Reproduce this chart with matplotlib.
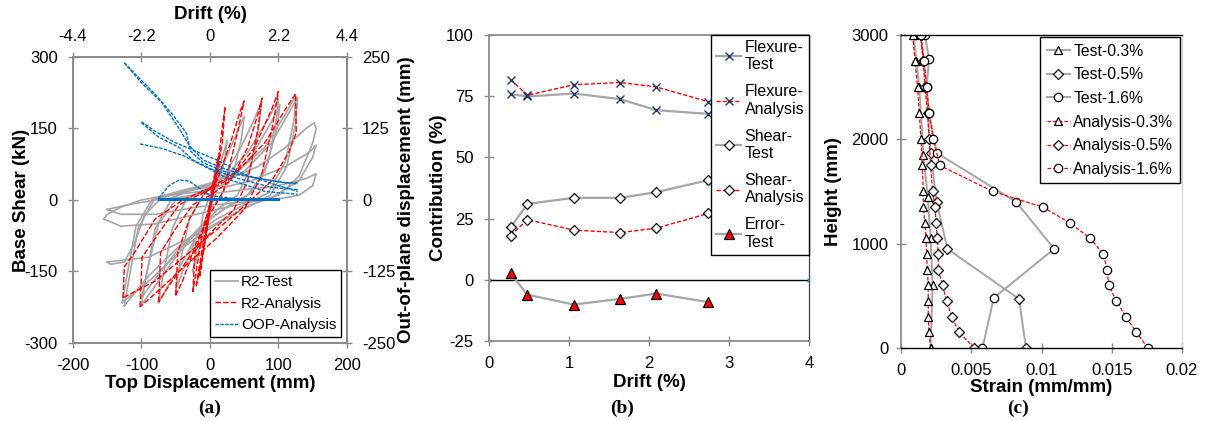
import matplotlib
matplotlib.use('Agg')
import matplotlib.pyplot as plt

plt.rcParams['font.family'] = ['Liberation Sans', 'DejaVu Sans']
plt.rcParams['axes.unicode_minus'] = False

# ---------------- (a) hysteresis: R2 test / analysis, OOP analysis ----------------
test_disp = [
    [-25, -20, -10, 0, 10, 20, 25, 22, 10, 0, -15, -25],
    [-50, -45, -30, -10, 10, 30, 45, 50, 46, 35, 15, 0, -20, -40, -50],
    [-75, -70, -55, -35, -10, 20, 45, 65, 75, 72, 60, 40, 15, -10, -40, -65, -75],
    [-100, -95, -80, -55, -20, 20, 55, 85, 100, 97, 85, 60, 30, 0, -40, -75, -100],
    [-100, -92, -75, -50, -15, 25, 60, 90, 102, 98, 80, 55, 25, -10, -50, -85, -100],
    [-125, -120, -105, -80, -40, 0, 40, 80, 110, 125, 123, 110, 85, 50, 10, -40, -90, -125],
    [-128, -122, -108, -85, -45, 5, 50, 90, 118, 128, 125, 112, 88, 55, 15, -35, -85, -128],
    [-150, -145, -125, -110, -95, -70, -30, 20, 70, 110, 140, 152, 155, 150, 130, 100, 60, 20, -30, -90, -150],
    [-155, -150, -130, -100, -60, 0, 60, 110, 145, 155, 150, 130, 90, 40, -20, -80, -130, -155],
    [-150, -120, -80, -20, 40, 100, 140, 155, 150, 130, 90, 40, -20, -80, -130, -150],
]
test_shear = [
    [-150, -110, -30, 10, 50, 100, 125, 90, 20, -20, -100, -150],
    [-190, -140, -40, 10, 40, 110, 160, 175, 130, 60, 5, -20, -80, -150, -190],
    [-215, -170, -60, 0, 20, 50, 110, 170, 205, 160, 70, 10, -15, -50, -130, -190, -215],
    [-220, -175, -60, 5, 25, 45, 100, 170, 212, 170, 80, 15, -10, -40, -100, -170, -220],
    [-205, -150, -50, 0, 15, 35, 90, 165, 200, 150, 60, 10, -15, -50, -110, -175, -205],
    [-222, -180, -60, 5, 20, 35, 60, 110, 180, 218, 170, 80, 15, -10, -40, -90, -160, -222],
    [-215, -165, -55, 0, 15, 30, 60, 120, 190, 215, 160, 70, 10, -15, -45, -95, -165, -215],
    [-130, -135, -130, -90, -30, 5, 20, 40, 70, 110, 150, 162, 150, 120, 50, 10, -10, -40, -80, -120, -130],
    [-40, -30, -15, 0, 10, 20, 40, 70, 100, 115, 90, 40, 5, -10, -30, -50, -55, -40],
    [-20, -10, 0, 10, 20, 30, 45, 55, 30, 10, 0, -5, -15, -30, -30, -20],
]

ana_disp = [
    [-15, -5, 5, 12, 8, -2, -15],
    [-20, -10, 0, 8, 15, 12, 0, -10, -20],
    [-25, -22, 0, 10, 22, 18, 5, -10, -25],
    [-50, -47, -30, -10, 10, 30, 45, 50, 40, 20, 0, -20, -40, -50],
    [-75, -72, -50, -25, 0, 30, 55, 70, 76, 70, 55, 35, 0, -30, -60, -75],
    [-102, -99, -75, -45, -10, 30, 65, 90, 100, 92, 75, 50, 10, -30, -75, -102],
    [-127, -125, -110, -80, -40, 0, 40, 80, 110, 125, 126, 115, 90, 60, 20, -30, -80, -127],
]
ana_shear = [
    [-160, -60, 40, 90, 50, -40, -160],
    [-180, -90, -10, 60, 100, 60, -20, -110, -180],
    [-193, -110, -20, 60, 196, 120, 20, -60, -193],
    [-200, -110, -40, 10, 40, 120, 190, 208, 140, 20, -30, -90, -170, -200],
    [-214, -110, -60, -10, 10, 40, 110, 180, 214, 150, 40, -20, -70, -120, -180, -214],
    [-224, -120, -70, -10, 15, 45, 110, 190, 228, 160, 50, -20, -80, -130, -190, -224],
    [-205, -140, -110, -40, 0, 25, 60, 120, 190, 223, 141, 100, 40, 0, -50, -110, -170, -205],
]

oop_disp = [
    [-125, -100, -70, -45, -30, -10, 20, 60, 100, 128],
    [-125, -105, -80, -55, -35, -28, -10, 25, 70, 110, 128],
    [-100, -80, -50, -20, 10, 50, 100, 128],
    [-100, -75, -45, -25, 0, 40, 90, 128],
    [-102, -70, -40, -10, 30, 80, 128],
    [-75, -60, -45, -30, -15, 0, 30, 60, 100],
]
oop_defl = [
    [240, 205, 170, 125, 95, 70, 55, 40, 32, 28],
    [240, 215, 185, 150, 118, 85, 65, 48, 38, 30, 30],
    [137, 120, 100, 85, 70, 45, 25, 15],
    [135, 110, 92, 70, 55, 38, 22, 18],
    [98, 90, 78, 60, 35, 15, 10],
    [3, 25, 35, 33, 20, 8, 3, 1, 0],
]
oop_base_disp = [-75, 100]
oop_base_defl = [1, 1]

# ---------------- (b) contributions ----------------
drift = [0.27, 0.48, 1.06, 1.64, 2.09, 2.74]
flex_test = [75.8, 74.9, 76.1, 73.8, 69.3, 67.8]
flex_ana = [81.8, 75.4, 79.7, 80.6, 78.8, 72.8]
shear_test = [21.4, 31.0, 33.5, 33.5, 35.8, 40.7]
shear_ana = [18.1, 24.6, 20.3, 19.3, 21.1, 27.1]
error_test = [2.6, -6.1, -10.1, -7.8, -5.6, -9.1]
zero_x = [0, 4]
zero_y = [0, 0]

# ---------------- (c) strain profiles ----------------
h_t03 = [0, 600, 1050, 1450, 1850, 2500, 2750, 3000]
s_t03 = [0.0021, 0.00225, 0.00211, 0.0019, 0.0016, 0.0013, 0.0011, 0.0009]
h_t05 = [0, 470, 950, 1400, 1870, 2500, 2750, 3000]
s_t05 = [0.0089, 0.0084, 0.0033, 0.00254, 0.0021, 0.0018, 0.0016, 0.0014]
h_t16 = [0, 480, 950, 1400, 1870, 2250, 2500, 2770, 3000]
s_t16 = [0.0058, 0.0066, 0.0109, 0.0082, 0.00254, 0.0020, 0.00182, 0.0020, 0.0017]
h_ana = [0, 150, 300, 450, 600, 750, 900, 1050, 1200, 1350, 1500, 1750, 2000, 2250, 2500, 2750, 3000]
s_a03 = [0.00211, 0.0020, 0.00194, 0.00194, 0.00194, 0.00187, 0.00182, 0.00178, 0.0017,
         0.00159, 0.00159, 0.00152, 0.00142, 0.0013, 0.00118, 0.001, 0.00083]
s_a05 = [0.0052, 0.00415, 0.0036, 0.00325, 0.00296, 0.00265, 0.00265, 0.00258, 0.00249,
         0.00242, 0.00225, 0.0021, 0.002, 0.0019, 0.0017, 0.00159, 0.0014]
s_a16 = [0.01758, 0.01675, 0.0160, 0.01533, 0.01479, 0.01467, 0.0144, 0.01348, 0.0120,
         0.0101, 0.00652, 0.00277, 0.0023, 0.0020, 0.00182, 0.00166, 0.0014]

GREY = '#A6A6A6'
RED = '#FF0000'
BLUE = '#0070C0'
SPINE = '#8C8C8C'
TICK_FS = 12
LAB_FS = 13.5

fig = plt.figure(figsize=(12.06, 4.21), dpi=100)


def style_ticks(ax, color=SPINE):
    ax.tick_params(direction='inout', length=7, width=1, color=color,
                   labelsize=TICK_FS, pad=7.5)


def place_label(axis, text, x, y, rotation=0):
    # axis label centred on a fixed point (axes fraction)
    axis.set_label_text(text, fontsize=LAB_FS, fontweight='bold')
    axis.label.set_va('center')
    axis.label.set_ha('center')
    if rotation:
        axis.label.set_rotation(rotation)
    axis.set_label_coords(x, y)


# ---- panel (a) ----
ax1 = fig.add_axes([0.0605, 0.1853, 0.2272, 0.6793])
for xs, ys in zip(test_disp, test_shear):
    ax1.plot(xs, ys, color=GREY, lw=1.2)
for xs, ys in zip(ana_disp, ana_shear):
    ax1.plot(xs, ys, color=RED, lw=1.0, dashes=(4, 1.5))
ax1.set_xlim(-200, 200)
ax1.set_ylim(-300, 300)
ax1.set_xticks([-200, -100, 0, 100, 200])
ax1.set_yticks([-300, -150, 0, 150, 300])
style_ticks(ax1)
place_label(ax1.xaxis, 'Top Displacement (mm)', 0.5, -0.14)
place_label(ax1.yaxis, 'Base Shear (kN)', -0.186, 0.5, 90)

ax1r = ax1.twinx()
for xs, ys in zip(oop_disp, oop_defl):
    ax1r.plot(xs, ys, color=BLUE, lw=1.0, dashes=(2.5, 1))
ax1r.plot(oop_base_disp, oop_base_defl, color=BLUE, lw=2.2)
ax1r.set_ylim(-250, 250)
ax1r.set_yticks([-250, -125, 0, 125, 250])
style_ticks(ax1r)
place_label(ax1r.yaxis, 'Out-of-plane displacement (mm)', 1.219, 0.5, 90)

ax1t = ax1.twiny()
ax1t.set_xlim(-4.4, 4.4)
ax1t.set_xticks([-4.4, -2.2, 0, 2.2, 4.4])
ax1t.set_xticklabels(['-4.4', '-2.2', '0', '2.2', '4.4'])
style_ticks(ax1t)
ax1t.tick_params(axis='x', pad=6)
place_label(ax1t.xaxis, 'Drift (%)', 0.5, 1.15)
for a in (ax1, ax1r, ax1t):
    for s in a.spines.values():
        s.set_color(SPINE)
        s.set_linewidth(1.3)

leg_test = plt.Line2D([], [], color=GREY, lw=1.2)
leg_ana = plt.Line2D([], [], color=RED, lw=1.0, dashes=(4, 1.5))
leg_oop = plt.Line2D([], [], color=BLUE, lw=1.0, dashes=(2.5, 1))
leg = ax1r.legend([leg_test, leg_ana, leg_oop], ['R2-Test', 'R2-Analysis', 'OOP-Analysis'],
                  loc='lower right', fontsize=11, fancybox=False, framealpha=1,
                  edgecolor='black', handlelength=1.5, handletextpad=0.2,
                  borderpad=0.3, labelspacing=0.5, borderaxespad=0.4)
leg.get_frame().set_linewidth(1.0)

# ---- panel (b) ----
ax2 = fig.add_axes([0.4055, 0.19, 0.2653, 0.7268])
ax2.plot(zero_x, zero_y, color='black', lw=1.0, marker='x', ms=3.5, mec='#4BACC6', mew=1)
ax2.plot(drift, flex_test, color=GREY, lw=1.6, marker='x', ms=6, mec='#1F3864', mew=1.0,
         label='Flexure-\nTest')
ax2.plot(drift, flex_ana, color=RED, lw=1.0, dashes=(3, 1.5), marker='x', ms=6, mec='#1F3864',
         mew=1.0, label='Flexure-\nAnalysis')
ax2.plot(drift, shear_test, color=GREY, lw=1.6, marker='D', ms=5, mfc='white', mec='black',
         mew=0.9, label='Shear-\nTest')
ax2.plot(drift, shear_ana, color=RED, lw=1.0, dashes=(3, 1.5), marker='D', ms=5, mfc='white',
         mec='black', mew=0.9, label='Shear-\nAnalysis')
ax2.plot(drift, error_test, color=GREY, lw=1.6, marker='^', ms=7, mfc=RED, mec='black',
         mew=0.9, label='Error-\nTest')
ax2.set_xlim(0, 4)
ax2.set_ylim(-25, 100)
ax2.set_xticks([0, 1, 2, 3, 4])
ax2.set_yticks([-25, 0, 25, 50, 75, 100])
style_ticks(ax2)
place_label(ax2.xaxis, 'Drift (%)', 0.5, -0.134)
place_label(ax2.yaxis, 'Contribution (%)', -0.159, 0.5, 90)
for side in ('left', 'bottom', 'top'):
    ax2.spines[side].set_color(SPINE)
    ax2.spines[side].set_linewidth(1.3)
ax2.spines['right'].set_color('#404040')
ax2.spines['right'].set_linewidth(0.9)
handles, labels = ax2.get_legend_handles_labels()
leg2 = ax2.legend(handles, labels, loc='upper right', fontsize=11.5, fancybox=False,
                  framealpha=1, edgecolor='black', handlelength=1.6, handletextpad=0.2,
                  borderpad=0.3, labelspacing=0.75, borderaxespad=0)
leg2.get_frame().set_linewidth(1.0)

# ---- panel (c) ----
ax3 = fig.add_axes([0.7471, 0.1734, 0.233, 0.7435])
mk = dict(mfc='white', mec='black', mew=0.9)
ax3.plot(s_t03, h_t03, color=GREY, lw=1.4, marker='^', ms=6, label='Test-0.3%', **mk)
ax3.plot(s_t05, h_t05, color=GREY, lw=1.4, marker='D', ms=5, label='Test-0.5%', **mk)
ax3.plot(s_t16, h_t16, color=GREY, lw=1.4, marker='o', ms=6, label='Test-1.6%', **mk)
ax3.plot(s_a03, h_ana, color=RED, lw=0.9, dashes=(3, 1.5), marker='^', ms=6,
         label='Analysis-0.3%', **mk)
ax3.plot(s_a05, h_ana, color=RED, lw=0.9, dashes=(3, 1.5), marker='D', ms=5,
         label='Analysis-0.5%', **mk)
ax3.plot(s_a16, h_ana, color=RED, lw=0.9, dashes=(3, 1.5), marker='o', ms=6,
         label='Analysis-1.6%', **mk)
ax3.set_xlim(0, 0.02)
ax3.set_ylim(0, 3000)
ax3.set_xticks([0, 0.005, 0.01, 0.015, 0.02])
ax3.set_xticklabels(['0', '0.005', '0.01', '0.015', '0.02'])
ax3.set_yticks([0, 1000, 2000, 3000])
style_ticks(ax3)
ax3.tick_params(axis='y', pad=5.5)
place_label(ax3.xaxis, 'Strain (mm/mm)', 0.5, -0.125)
place_label(ax3.yaxis, 'Height (mm)', -0.242, 0.5, 90)
ax3.spines['left'].set_color(SPINE)
ax3.spines['left'].set_linewidth(1.3)
ax3.spines['right'].set_color('#D0D0D0')
for side in ('top', 'bottom'):
    ax3.spines[side].set_color('black')
    ax3.spines[side].set_linewidth(1.0)
leg3 = ax3.legend(loc='upper right', fontsize=11.3, fancybox=False, framealpha=1,
                  edgecolor='black', handlelength=1.5, handletextpad=0.2,
                  borderpad=0.4, labelspacing=0.55, borderaxespad=0.15)
leg3.get_frame().set_linewidth(1.0)

# ---- captions ----
for x, t in [(0.174, '(a)'), (0.516, '(b)'), (0.844, '(c)')]:
    fig.text(x, 0.03, t, ha='center', va='center', fontsize=14, fontweight='bold',
             family='Liberation Serif')

fig.savefig('out.png', dpi=100)
